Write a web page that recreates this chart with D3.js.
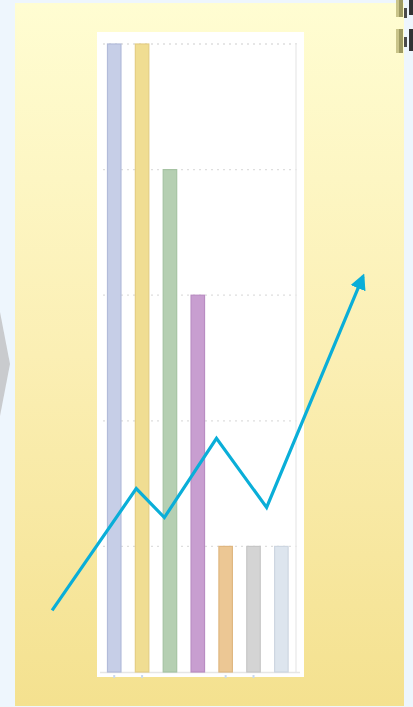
<!DOCTYPE html>
<html lang="en">
<head>
<meta charset="utf-8">
<title>Bars with trend arrow</title>
<script src="https://cdn.jsdelivr.net/npm/d3@7"></script>
<style>
  html, body { margin: 0; padding: 0; background: #eef6fd; }
  svg { display: block; }
</style>
</head>
<body>
<script>
// data
var categories = ["A", "B", "C", "D", "E", "F", "G"];
var values = [5, 5, 4, 3, 1, 1, 1];
var barColors = ["#c6cee7", "#f0dd92", "#b5cfb2", "#c89ed0", "#ecc794", "#d4d4d4", "#dde5ee"];
var barStrokes = ["#b2bbda", "#e4ce84", "#a6c3a3", "#b98cc2", "#dfb781", "#c6c6c6", "#cdd6e1"];
var yTicks = [0, 1, 2, 3, 4, 5];
var tickedCats = ["A", "B", "E", "F"];

// trend arrow, x in category index units, y in value units
var trendX = [-2.23, 0.79, 1.8, 3.67, 5.47, 8.93];
var trendY = [0.49, 1.46, 1.23, 1.86, 1.31, 3.15];

var w = 413, h = 707;

var svg = d3.select("body").append("svg")
    .attr("width", w)
    .attr("height", h);

var defs = svg.append("defs");
var grad = defs.append("linearGradient")
    .attr("id", "panelGrad")
    .attr("x1", 0).attr("y1", 0).attr("x2", 0).attr("y2", 1);
grad.append("stop").attr("offset", "0%").attr("stop-color", "#fffdd2");
grad.append("stop").attr("offset", "50%").attr("stop-color", "#fbefb4");
grad.append("stop").attr("offset", "100%").attr("stop-color", "#f4e18f");

defs.append("marker")
    .attr("id", "arrow")
    .attr("viewBox", "0 0 10 10")
    .attr("refX", 8).attr("refY", 5)
    .attr("markerWidth", 5).attr("markerHeight", 5)
    .attr("orient", "auto")
    .append("path")
    .attr("d", "M0,0L10,5L0,10z")
    .attr("fill", "#0aaed8");

// gray chevron cut off at the left edge
svg.append("path")
    .attr("d", "M0,312L10,364L0,416Z")
    .attr("fill", "#c9cbce");

// yellow panel
svg.append("rect")
    .attr("x", 15).attr("y", 3)
    .attr("width", 389).attr("height", 703)
    .attr("fill", "url(#panelGrad)");

// cut off bits in the top right corner
var corner = svg.append("g");
[[0, 17], [29, 53]].forEach(function(r) {
  corner.append("rect").attr("x", 396).attr("y", r[0]).attr("width", 3).attr("height", r[1] - r[0]).attr("fill", "#c9c48a");
  corner.append("rect").attr("x", 399).attr("y", r[0]).attr("width", 4).attr("height", r[1] - r[0]).attr("fill", "#9d9a62");
  corner.append("rect").attr("x", 404).attr("y", r[0] + 8).attr("width", 3).attr("height", 10).attr("fill", "#4a4a4a");
  corner.append("rect").attr("x", 409).attr("y", r[0]).attr("width", 4).attr("height", r[1] - r[0] - 2).attr("fill", "#333333");
});

// white chart card
svg.append("rect")
    .attr("x", 97).attr("y", 32)
    .attr("width", 207).attr("height", 645)
    .attr("fill", "#ffffff");

var x = d3.scaleBand()
    .domain(categories)
    .range([100.3, 295.3])
    .paddingInner(0.48)
    .paddingOuter(0.24);

var y = d3.scaleLinear()
    .domain([0, 5])
    .range([672, 44]);

// gridlines
svg.append("g")
  .selectAll("line")
  .data(yTicks.slice(1))
  .enter()
  .append("line")
    .attr("x1", 103).attr("x2", 300)
    .attr("y1", function(d) { return y(d); })
    .attr("y2", function(d) { return y(d); })
    .attr("stroke", "#dedede")
    .attr("stroke-width", 1.3)
    .attr("stroke-dasharray", "2,4");

svg.append("line")
    .attr("x1", 296).attr("x2", 296)
    .attr("y1", y(5)).attr("y2", y(0))
    .attr("stroke", "#ededed")
    .attr("stroke-width", 1.5);

svg.append("line")
    .attr("x1", 100).attr("x2", 300)
    .attr("y1", y(0) + 0.5).attr("y2", y(0) + 0.5)
    .attr("stroke", "#e6e6e6")
    .attr("stroke-width", 1.5);

svg.append("g")
  .selectAll("line")
  .data(tickedCats)
  .enter()
  .append("line")
    .attr("x1", function(d) { return x(d) + x.bandwidth() / 2; })
    .attr("x2", function(d) { return x(d) + x.bandwidth() / 2; })
    .attr("y1", y(0) + 3).attr("y2", y(0) + 6)
    .attr("stroke", "#c9d9ee")
    .attr("stroke-width", 2);

// bars
svg.append("g")
  .selectAll("rect")
  .data(values)
  .enter()
  .append("rect")
    .attr("x", function(d, i) { return x(categories[i]) + 0.5; })
    .attr("y", function(d) { return y(d); })
    .attr("width", x.bandwidth() - 1)
    .attr("height", function(d) { return y(0) - y(d); })
    .attr("fill", function(d, i) { return barColors[i]; })
    .attr("stroke", function(d, i) { return barStrokes[i]; })
    .attr("stroke-width", 1.2);

// trend arrow
var tx = d3.scaleLinear()
    .domain([0, 6])
    .range([x(categories[0]) + x.bandwidth() / 2, x(categories[6]) + x.bandwidth() / 2]);

var line = d3.line()
    .x(function(d) { return tx(d[0]); })
    .y(function(d) { return y(d[1]); });

svg.append("path")
    .datum(d3.zip(trendX, trendY))
    .attr("d", line)
    .attr("fill", "none")
    .attr("stroke", "#0aaed8")
    .attr("stroke-width", 3.2)
    .attr("stroke-linejoin", "miter")
    .attr("marker-end", "url(#arrow)");
</script>
</body>
</html>
